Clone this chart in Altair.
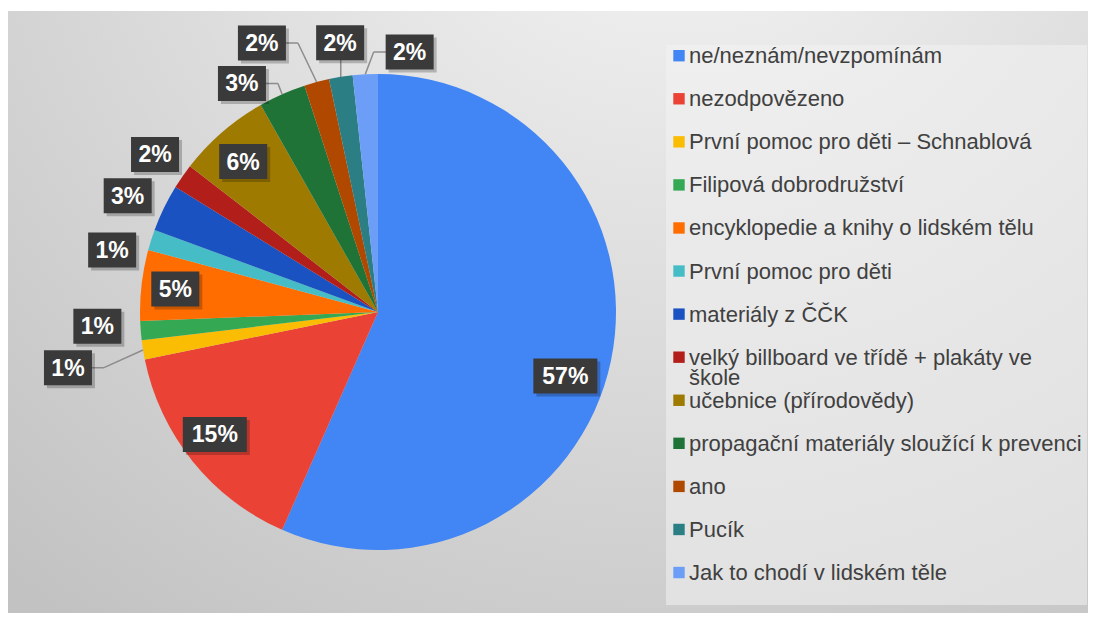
import altair as alt
import pandas as pd

# ---------------- data ----------------
categories = [
    "ne/neznám/nevzpomínám",
    "nezodpovězeno",
    "První pomoc pro děti – Schnablová",
    "Filipová dobrodružství",
    "encyklopedie a knihy o lidském tělu",
    "První pomoc pro děti",
    "materiály z ČČK",
    "velký billboard ve třídě + plakáty ve škole",
    "učebnice (přírodovědy)",
    "propagační materiály sloužící k prevenci",
    "ano",
    "Pucík",
    "Jak to chodí v lidském těle",
]
values = [56.6, 15.2, 1.3, 1.3, 4.8, 1.4, 3.2, 1.7, 6.3, 3.2, 1.7, 1.6, 1.7]

# ---------------- styles / layout ----------------
colors = ["#4285F4", "#EA4335", "#FBBC04", "#34A853", "#FF6D01", "#46BDC6",
          "#1A52C2", "#B21F1A", "#9E7A00", "#1F7337", "#B04800", "#2A7E84", "#6D9EF7"]
legend_text = [c if c != categories[7] else "velký billboard ve třídě + plakáty ve\nškole"
               for c in categories]
label_nudge_deg = [7, 2, -1, 1.6, 0, -4.5, -1, 0.5, -1, -7, -8.4, 1, 10]
label_radius = [198, 204, 315, 281, 204, 273, 276, 273, 202, 266, 293, 272, 262]
leader = [False, False, True, False, False, False, False, False, False, True, True, True, True]

W, H = 1080, 605
CX, CY, R = 370, 304, 238
FONT = "Liberation Sans"

df = pd.DataFrame({
    "idx": list(range(len(categories))),
    "cat": categories,
    "value": values,
    "legend": legend_text,
    "nudge": label_nudge_deg,
    "lr": label_radius,
    "leader": leader,
})

color_scale = alt.Scale(domain=categories, range=colors)

# background with radial gradient
bg = alt.Chart(pd.DataFrame({"a": [0]})).mark_rect(
    color=alt.RadialGradient(
        gradient="radial",
        stops=[alt.GradientStop(offset=0, color="#f8f8f8"),
               alt.GradientStop(offset=1, color="#c2c2c2")],
        x1=0.62, y1=0.02, r1=0, x2=0.62, y2=0.02, r2=0.95,
    )
).encode(x=alt.value(0), x2=alt.value(W), y=alt.value(3), y2=alt.value(H))

legend_bg = alt.Chart(pd.DataFrame({"a": [0]})).mark_rect(
    color="#f3f3f3", opacity=0.55
).encode(x=alt.value(658), x2=alt.value(1079), y=alt.value(37), y2=alt.value(597))

base = alt.Chart(df)

pie = base.mark_arc(outerRadius=R).encode(
    theta=alt.Theta("value:Q", stack=True),
    color=alt.Color("cat:N", scale=color_scale, legend=None),
    order=alt.Order("idx:Q"),
    x=alt.value(CX),
    y=alt.value(CY),
)

lab = base.transform_joinaggregate(
    total="sum(value)"
).transform_window(
    cum="sum(value)", sort=[alt.SortField("idx")], frame=[None, 0]
).transform_calculate(
    mid0="(datum.cum - datum.value/2) / datum.total * 2 * PI",
).transform_calculate(
    mid="datum.mid0 + datum.nudge * PI / 180",
).transform_calculate(
    lx=f"{CX} + datum.lr * sin(datum.mid)",
    ly=f"{CY} - datum.lr * cos(datum.mid)",
    ax=f"{CX} + {R} * sin(datum.mid0)",
    ay=f"{CY} - {R} * cos(datum.mid0)",
    label="format(round(datum.value / datum.total * 100), 'd') + '%'",
).transform_calculate(
    bw="length(datum.label) >= 3 ? 64 : 48",
).transform_calculate(
    bx1="datum.lx - datum.bw/2",
    bx2="datum.lx + datum.bw/2",
    by1="datum.ly - 17.5",
    by2="datum.ly + 17.5",
    ex="abs(datum.ax - datum.lx) < datum.bw/2 ? datum.ax : (datum.lx < datum.ax ? datum.lx + datum.bw/2 + 12 : datum.lx - datum.bw/2 - 12)",
    ey="datum.ly",
)

def sx(f):
    return alt.X(f, scale=None, axis=None)

def sy(f):
    return alt.Y(f, scale=None, axis=None)

leaders1 = lab.transform_filter("datum.leader").mark_rule(color="#8c8c8c", strokeWidth=1.5).encode(
    x=sx("ax:Q"), y=sy("ay:Q"), x2="ex:Q", y2="ey:Q")
leaders2 = lab.transform_filter("datum.leader").mark_rule(color="#8c8c8c", strokeWidth=1.5).encode(
    x=sx("ex:Q"), y=sy("ey:Q"), x2="lx:Q", y2="ly:Q")

shadow = lab.mark_rect(color="#000000", opacity=0.22).encode(
    x=sx("sx1:Q"), x2="sx2:Q", y=sy("sy1:Q"), y2="sy2:Q"
).transform_calculate(sx1="datum.bx1 + 3", sx2="datum.bx2 + 3",
                      sy1="datum.by1 + 3", sy2="datum.by2 + 3")

boxes = lab.mark_rect(color="#3a3a3a").encode(
    x=sx("bx1:Q"), x2="bx2:Q", y=sy("by1:Q"), y2="by2:Q")

texts = lab.mark_text(font=FONT, fontSize=23, fontWeight="bold", color="white",
                      align="center", baseline="middle", dy=1).encode(
    x=sx("lx:Q"), y=sy("ly:Q"), text="label:N")

leg = base.transform_calculate(ry="47.7 + 43.07 * datum.idx", ty="47.7 + 43.07 * datum.idx + 7.5")

leg_sq = leg.mark_square(size=130, opacity=1).encode(
    x=alt.value(671), y=sy("ry:Q"),
    color=alt.Color("cat:N", scale=color_scale, legend=None))

leg_tx = leg.mark_text(font=FONT, fontSize=22, color="#404040", align="left",
                       baseline="alphabetic", lineBreak="\n", lineHeight=20).encode(
    x=alt.value(681), y=sy("ty:Q"), text="legend:N")

chart = alt.layer(bg, legend_bg, pie, leaders1, leaders2, shadow, boxes, texts, leg_sq, leg_tx).properties(
    width=W, height=H, padding=0, autosize=alt.AutoSizeParams(type="none"),
    background="white",
).configure_view(stroke=None)

chart.save("out.html", embed_options={"renderer": "svg", "actions": False})
